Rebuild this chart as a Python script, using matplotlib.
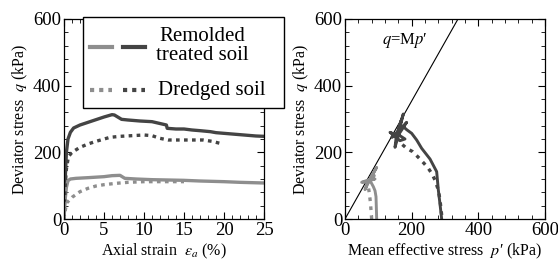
import numpy as np
import matplotlib
matplotlib.use('Agg')
import matplotlib.pyplot as plt
from matplotlib.patches import Rectangle
from matplotlib.ticker import MultipleLocator

plt.rcParams['font.family'] = ['Liberation Serif', 'DejaVu Serif']
plt.rcParams['mathtext.fontset'] = 'stix'

dark = '#444444'
light = '#8e8e8e'

# left panel: q vs axial strain
tr_eps = [0, 0.15, 0.3, 0.5, 0.8, 1.2, 2, 3, 4, 5, 6, 6.3, 7.2, 8, 9.5, 11, 12.8, 12.9, 14, 15, 16, 17, 18.3, 19, 20, 21, 22, 23, 24, 25]
tr_q = [0, 120, 200, 240, 260, 273, 282, 290, 298, 306, 313, 312, 299, 297, 294, 292, 282, 272, 270, 270, 267, 265, 262, 259, 257, 255, 253, 251, 249, 248]
tr_eps2 = [0, 0.15, 0.3, 0.5, 0.8, 1.5, 3, 5, 6, 7, 7.2, 7.6, 9, 11, 13, 15, 17, 20, 22, 25]
tr_q2 = [0, 60, 95, 115, 120, 122, 124, 127, 130, 131, 128, 122, 120, 118, 117, 116, 114, 112, 110, 108]
dr_eps = [0, 0.15, 0.3, 0.55, 1, 2, 3, 4, 5.75, 7, 8.5, 10, 11, 12, 13, 15, 17.4, 18.5, 19.5]
dr_q = [0, 100, 150, 187, 200, 215, 225, 233, 245, 248, 250, 252, 250, 242, 237, 237, 237, 233, 227]
dr_eps2 = [0, 0.15, 0.33, 1, 2, 3, 4, 5, 6.5, 8, 10, 12, 15]
dr_q2 = [0, 25, 48, 65, 82, 92, 99, 103, 107, 110, 112, 112, 112]

# right panel: stress paths
tr_p = [290, 285, 280, 275, 255, 230, 215, 200, 185, 175, 165,
        160, 175, 158, 140, 162, 185, 155, 150, 160, 135, 165, 180, 157, 170, 160]
tr_pq = [0, 45, 87, 142, 180, 212, 237, 257, 268, 277, 280,
         257, 315, 262, 245, 255, 290, 258, 215, 250, 260, 235, 240, 255, 300, 260]
dr_p = [290, 285, 280, 270, 260, 250, 237, 223, 203, 185, 170, 160]
dr_pq = [12, 57, 87, 117, 137, 152, 167, 182, 202, 212, 225, 235]
tr_p2 = [95, 94, 93, 90, 85, 78, 72,
         95, 70, 50, 72, 88, 68, 60, 75, 90, 72]
tr_pq2 = [0, 35, 67, 85, 97, 110, 113,
          155, 112, 110, 118, 130, 110, 88, 120, 120, 115]
dr_p2 = [80, 78, 76, 73, 70, 70]
dr_pq2 = [0, 27, 52, 77, 97, 110]
M = 1.77
line_p = [0, 400]

fig = plt.figure(figsize=(5.58, 2.62), dpi=100)
ax1 = fig.add_axes([64/558, 43/262, 200/558, 200/262])
ax2 = fig.add_axes([345/558, 43/262, 200/558, 200/262])

ax1.plot(tr_eps, tr_q, color=dark, lw=2.4)
ax1.plot(tr_eps2, tr_q2, color=light, lw=2.4)
ax1.plot(dr_eps, dr_q, color=dark, lw=2.4, ls=(0, (1.1, 1.3)))
ax1.plot(dr_eps2, dr_q2, color=light, lw=2.4, ls=(0, (1.1, 1.3)))
ax1.set_xlim(0, 25)
ax1.set_ylim(0, 600)
ax1.xaxis.set_major_locator(MultipleLocator(5))
ax1.xaxis.set_minor_locator(MultipleLocator(1))
ax1.set_xlabel(r'Axial strain  $\varepsilon_a$ (%)', fontsize=11.5, labelpad=2)
ax1.set_ylabel(r'Deviator stress  $q$ (kPa)', fontsize=11.5, labelpad=2)

ax2.plot(line_p, [M * p for p in line_p], color='black', lw=0.8)
ax2.plot(tr_p, tr_pq, color=dark, lw=2.1)
ax2.plot(dr_p, dr_pq, color=dark, lw=2.4, ls=(0, (1.1, 1.6)))
ax2.plot(tr_p2, tr_pq2, color=light, lw=2.1)
ax2.plot(dr_p2, dr_pq2, color=light, lw=2.4, ls=(0, (1.1, 1.6)))
ax2.set_xlim(0, 600)
ax2.set_ylim(0, 600)
ax2.xaxis.set_major_locator(MultipleLocator(200))
ax2.xaxis.set_minor_locator(MultipleLocator(40))
ax2.set_xlabel('Mean effective stress  $p$\u2032 (kPa)', fontsize=11.5, labelpad=2)
ax2.set_ylabel(r'Deviator stress  $q$ (kPa)', fontsize=11.5, labelpad=2)
ax2.text(180, 535, '$q$=M$p$\u2032', fontsize=12, ha='center', va='center')

for ax in (ax1, ax2):
    ax.yaxis.set_major_locator(MultipleLocator(200))
    ax.yaxis.set_minor_locator(MultipleLocator(40))
    ax.tick_params(which='both', direction='in', top=True, right=True, labelsize=13.5, pad=2)
    ax.tick_params(which='major', length=5)
    ax.tick_params(which='minor', length=3)
    for s in ax.spines.values():
        s.set_linewidth(0.9)

# legend box drawn by hand (spans beyond the axes)
tA = ax1.transAxes
ax1.add_patch(Rectangle((0.095, 0.555), 1.005, 0.455, transform=tA, facecolor='white',
                        edgecolor='black', lw=1.0, clip_on=False, zorder=10))
ax1.plot([0.13, 0.24], [0.86, 0.86], transform=tA, color=light, lw=3, clip_on=False, zorder=11)
ax1.plot([0.295, 0.405], [0.86, 0.86], transform=tA, color=dark, lw=3, clip_on=False, zorder=11)
ax1.plot([0.13, 0.24], [0.645, 0.645], transform=tA, color=light, lw=3, ls=(0, (1, 1.2)), clip_on=False, zorder=11)
ax1.plot([0.295, 0.405], [0.645, 0.645], transform=tA, color=dark, lw=3, ls=(0, (1, 1.2)), clip_on=False, zorder=11)
ax1.text(0.69, 0.865, 'Remolded\ntreated soil', transform=tA, fontsize=15, ha='center', va='center',
         multialignment='center', linespacing=1.0, zorder=12)
ax1.text(0.47, 0.645, 'Dredged soil', transform=tA, fontsize=15, ha='left', va='center', zorder=12)

fig.savefig('out.png', dpi=100)
